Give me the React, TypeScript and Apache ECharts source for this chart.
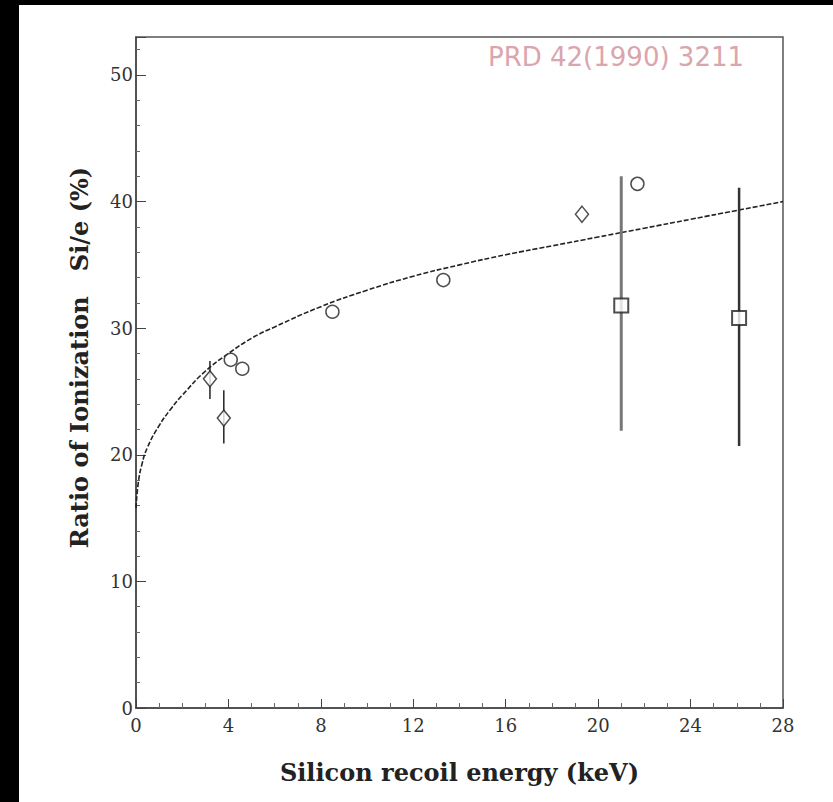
import React, { useEffect, useRef } from "react";
import * as echarts from "echarts";

// Model curve (dashed line)
const curveE = [0, 0.1, 0.25, 0.5, 1, 1.5, 2, 3, 4, 5, 6, 8, 10, 12, 14, 16, 18, 20, 22, 24, 26, 28];
const curveR = [15.8, 17.8, 19.2, 20.6, 22.3, 23.6, 24.7, 26.6, 28.0, 29.2, 30.1, 31.7, 33.0, 34.1, 35.0, 35.8, 36.5, 37.2, 37.9, 38.6, 39.3, 40.0];

// Diamond markers
const diamondE = [3.2, 3.8, 19.3];
const diamondR = [26.0, 22.9, 39.0];
// Circle markers
const circleE = [4.1, 4.6, 8.5, 13.3, 21.7];
const circleR = [27.5, 26.8, 31.3, 33.8, 41.4];
// Square markers
const squareE = [21.0, 26.1];
const squareR = [31.8, 30.8];

// Error bars: energy, low, high
const errE = [3.2, 3.8, 21.0, 26.1];
const errLo = [24.4, 20.9, 21.9, 20.7];
const errHi = [27.4, 25.1, 42.0, 41.1];
const errWidth = [1.5, 1.5, 3, 2.5];
const errColor = ["#222", "#222", "#777", "#333"];

const xTicks = [0, 4, 8, 12, 16, 20, 24, 28];
const yTicks = [0, 10, 20, 30, 40, 50];

const zip = (a: number[], b: number[]) => a.map((v, i) => [v, b[i]]);

export default function App() {
  const ref = useRef<HTMLDivElement>(null);
  useEffect(() => {
    document.body.style.margin = "0";
    const chart = echarts.init(ref.current!, null, { renderer: "svg" });
    const serif = "DejaVu Serif";
    chart.setOption({
      animation: false,
      backgroundColor: "#ffffff",
      grid: {
        left: 117,
        right: 50,
        top: 32,
        bottom: 94,
        show: true,
        borderColor: "#555",
        borderWidth: 1.5,
      },
      xAxis: {
        type: "value",
        min: 0,
        max: 28,
        interval: 4,
        name: "Silicon recoil energy (keV)",
        nameLocation: "middle",
        nameGap: 52,
        nameTextStyle: { fontFamily: serif, fontWeight: "bold", fontSize: 24, color: "#222" },
        axisLine: { show: true, lineStyle: { color: "#444", width: 1.5 } },
        axisTick: { show: true, inside: false, length: -9, lineStyle: { color: "#444" } },
        minorTick: { show: true, splitNumber: 4, length: -5, lineStyle: { color: "#666" } },
        splitLine: { show: false },
        axisLabel: {
          fontFamily: serif,
          fontSize: 18,
          color: "#333",
          margin: 8,
          formatter: (v: number) => (xTicks.includes(v) ? String(v) : ""),
        },
      },
      yAxis: {
        type: "value",
        min: 0,
        max: 53,
        interval: 10,
        axisLine: { show: true, lineStyle: { color: "#444", width: 1.5 } },
        axisTick: { show: true, inside: false, length: -10, lineStyle: { color: "#444" } },
        minorTick: { show: true, splitNumber: 5, length: -4, lineStyle: { color: "#666" } },
        splitLine: { show: false },
        name: "Ratio of Ionization   Si/e (%)",
        nameLocation: "middle",
        nameRotate: 90,
        nameGap: 45,
        nameTextStyle: { fontFamily: serif, fontWeight: "bold", fontSize: 24, color: "#222", padding: [0, 0, 0, 30] },
        axisLabel: {
          fontFamily: serif,
          fontSize: 18,
          color: "#333",
          margin: 3,
          showMaxLabel: false,
          formatter: (v: number) => (yTicks.includes(v) ? String(v) : ""),
        },
      },
      graphic: [
        {
          type: "text",
          left: 469,
          top: 39,
          style: {
            text: "PRD 42(1990) 3211",
            fontFamily: "DejaVu Sans",
            fontSize: 26,
            fill: "#dba5ac",
          },
        },
      ],
      series: [
        {
          type: "line",
          data: zip(curveE, curveR),
          smooth: true,
          showSymbol: false,
          symbol: "none",
          lineStyle: { color: "#222", width: 1.6, type: [5, 2] },
          z: 2,
        },
        {
          type: "custom",
          data: errE.map((e, i) => [e, errLo[i], errHi[i], i]),
          renderItem: (params: any, api: any) => {
            const i = api.value(3);
            const p1 = api.coord([api.value(0), api.value(1)]);
            const p2 = api.coord([api.value(0), api.value(2)]);
            return {
              type: "line",
              shape: { x1: p1[0], y1: p1[1], x2: p2[0], y2: p2[1] },
              style: { stroke: errColor[i], lineWidth: errWidth[i] },
            };
          },
          z: 3,
        },
        {
          type: "scatter",
          data: zip(diamondE, diamondR),
          symbol: "diamond",
          symbolSize: [13, 16],
          itemStyle: { color: "#fff", borderColor: "#222", borderWidth: 1.5 },
          z: 4,
        },
        {
          type: "scatter",
          data: zip(circleE, circleR),
          symbol: "circle",
          symbolSize: 13,
          itemStyle: { color: "#fff", borderColor: "#222", borderWidth: 1.5 },
          z: 4,
        },
        {
          type: "scatter",
          data: zip(squareE, squareR),
          symbol: "rect",
          symbolSize: 14,
          itemStyle: { color: "#fff", borderColor: "#222", borderWidth: 2 },
          z: 4,
        },
      ],
    });
    return () => chart.dispose();
  }, []);
  return (
    <div style={{ width: 833, height: 802, background: "#000", position: "relative" }}>
      <div
        ref={ref}
        style={{ position: "absolute", left: 19, top: 5, width: 814, height: 797, background: "#fff" }}
      />
    </div>
  );
}
